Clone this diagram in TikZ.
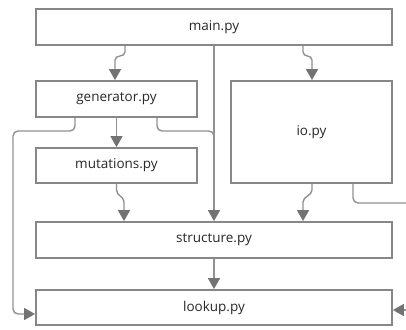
\documentclass[tikz,border=0pt]{standalone}
\usepackage{fontspec}
\setmainfont{Open Sans}
\usetikzlibrary{arrows.meta}
\definecolor{boxgray}{RGB}{135,135,135}
\definecolor{linegray}{RGB}{145,145,145}
\definecolor{tipgray}{RGB}{115,115,115}
\definecolor{txt}{RGB}{40,40,40}
\begin{document}
\begin{tikzpicture}[x=1pt,y=-1pt,
  box/.style={draw=boxgray, line width=1.8pt, fill=white, text=txt, inner sep=0pt,
    font=\fontsize{13.5}{16}\selectfont},
  conn/.style={draw=linegray, line width=1.4pt},
  arr/.style={-{Triangle[length=11pt,width=12pt,color=tipgray,fill=tipgray]}}]
\useasboundingbox (0,0) rectangle (406,329);
\node[box, minimum width=356pt, minimum height=36pt] (main) at (214,27) {main.py};
\node[box, minimum width=161pt, minimum height=36pt] (gen) at (116.5,99) {generator.py};
\node[box, minimum width=161pt, minimum height=35pt] (mut) at (116.5,165.5) {mutations.py};
\node[box, minimum width=161pt, minimum height=102pt] (io) at (311.5,132) {io.py};
\node[box, minimum width=356pt, minimum height=36pt] (struct) at (214,240) {structure.py};
\node[box, minimum width=356pt, minimum height=35pt] (lookup) at (214,307.5) {lookup.py};
\coordinate (ioout) at (407,203);
\coordinate (lkin) at (407,310);
% main -> generator
\draw[conn, arr] ([xshift=-89pt]main.south) -- ++(0,6) .. controls ++(0,6) and ++(0,-6) .. ([xshift=-1.5pt,yshift=20pt]gen.north) -- ([xshift=-1.5pt]gen.north);
% main -> io
\draw[conn, arr] ([xshift=89pt]main.south) -- ++(0,6) .. controls ++(0,6) and ++(0,-6) .. ([xshift=0.5pt,yshift=20pt]io.north) -- ([xshift=0.5pt]io.north);
% main -> structure
\draw[conn, arr] (main.south) -- (struct.north);
% generator -> mutations
\draw[conn, arr] (gen.south) -- (mut.north);
% generator -> structure (joins main line)
\draw[conn, rounded corners=5pt] ([xshift=40.5pt]gen.south) |- (214,131) -- (214,160);
% generator -> lookup
\draw[conn, arr, rounded corners=5pt] ([xshift=-41.5pt]gen.south) |- (13,131) -- (13,314) -- ([yshift=-6.5pt]lookup.west);
% mutations -> structure
\draw[conn, arr] (mut.south) -- ++(0,6) .. controls ++(0,6) and ++(0,-6) .. ([xshift=-90pt,yshift=19pt]struct.north) -- ([xshift=-90pt]struct.north);
% io -> structure
\draw[conn, arr] ([xshift=0.5pt]io.south) -- ++(0,6) .. controls ++(0,6) and ++(0,-6) .. ([xshift=89pt,yshift=19pt]struct.north) -- ([xshift=89pt]struct.north);
% structure -> lookup
\draw[conn, arr] (struct.south) -- (lookup.north);
% io -> off right
\draw[conn, rounded corners=5pt] ([xshift=41.5pt]io.south) |- (ioout);
% incoming from right into lookup
\draw[conn, arr] (lkin) -- ([yshift=-2.5pt]lookup.east);
\end{tikzpicture}
\end{document}
